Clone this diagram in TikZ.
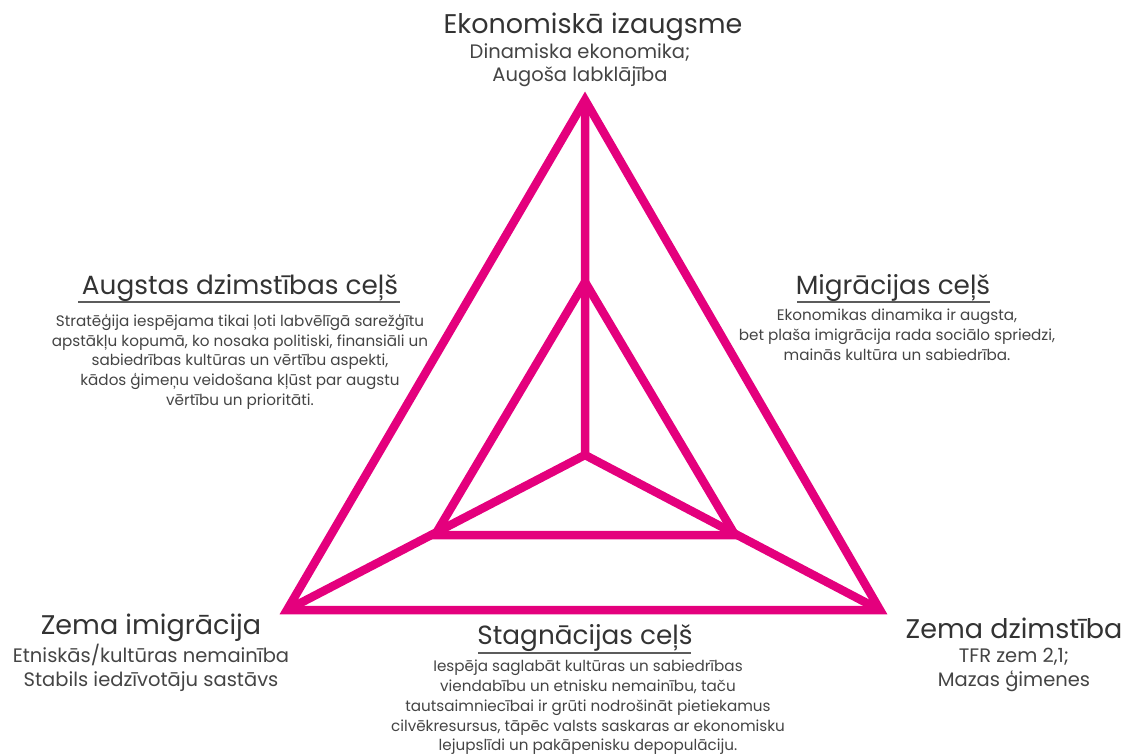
\documentclass[tikz,border=0pt]{standalone}
\usepackage{fontspec}
\setmainfont{Poppins}
\definecolor{mag}{HTML}{E4007D}
\definecolor{txt}{HTML}{333333}
\definecolor{body}{HTML}{444444}
\begin{document}
\begin{tikzpicture}[x=1pt,y=-1pt,
  tri/.style={draw=mag,line width=8.5pt,line join=miter},
  ttl/.style={text=txt,font=\fontsize{27}{30}\selectfont,inner sep=0pt},
  sub/.style={text=body,font=\fontsize{19.5}{23.5}\selectfont,align=center,inner sep=0pt},
  hd/.style={text=txt,font=\fontsize{26.3}{30}\selectfont,inner sep=0pt},
  bd/.style={text=body,font=\fontsize{15.2}{19.8}\selectfont,align=center,inner sep=0pt},
  ul/.style={draw=txt!80,line width=2pt}]
\useasboundingbox (0,0) rectangle (1128,755);
\coordinate (T) at (585,100);
\coordinate (L) at (287,610);
\coordinate (R) at (880,610);
\coordinate (C) at (585,455);
\coordinate (iT) at (585,282);
\coordinate (iL) at (435,535);
\coordinate (iR) at (735,535);
\draw[tri] (T)--(L)--(R)--cycle;
\draw[tri] (iT)--(iL)--(iR)--cycle;
\draw[tri] (C)--(T) (C)--(L) (C)--(R);

\node[ttl] (econ) at (593,27) {Ekonomiskā izaugsme};
\node[sub,anchor=north] (econsub) at (580,43) {Dinamiska ekonomika;\\Augoša labklājība};

\node[ttl] (imig) at (151,628) {Zema imigrācija};
\node[sub,anchor=north] (imigsub) at (151,644) {Etniskās/kultūras nemainība\\Stabils iedzīvotāju sastāvs};

\node[ttl] (dzim) at (1014,628) {Zema dzimstība};
\node[sub,anchor=north] (dzimsub) at (1014,648) {TFR zem 2,1;\\Mazas ģimenes};

\node[hd] (aug) at (240,288) {Augstas dzimstības ceļš};
\draw[ul] (78,302) -- (400,302);
\node[bd,anchor=north] (augb) at (240,314) {Stratēģija iespējama tikai ļoti labvēlīgā sarežģītu\\apstākļu kopumā, ko nosaka politiski, finansiāli un\\sabiedrības kultūras un vērtību aspekti,\\kādos ģimeņu veidošana kļūst par augstu\\vērtību un prioritāti.};

\node[hd] (mig) at (893,288) {Migrācijas ceļš};
\draw[ul] (797,302) -- (990,302);
\node[bd,anchor=north] (migb) at (897,309) {Ekonomikas dinamika ir augsta,\\bet plaša imigrācija rada sociālo spriedzi,\\mainās kultūra un sabiedrība.};

\node[hd] (stag) at (585,638) {Stagnācijas ceļš};
\draw[ul] (478,653) -- (691,653);
\node[bd,anchor=north] (stagb) at (588,660) {Iespēja saglabāt kultūras un sabiedrības\\viendabību un etnisku nemainību, taču\\tautsaimniecībai ir grūti nodrošināt pietiekamus\\cilvēkresursus, tāpēc valsts saskaras ar ekonomisku\\lejupslīdi un pakāpenisku depopulāciju.};
\end{tikzpicture}
\end{document}
